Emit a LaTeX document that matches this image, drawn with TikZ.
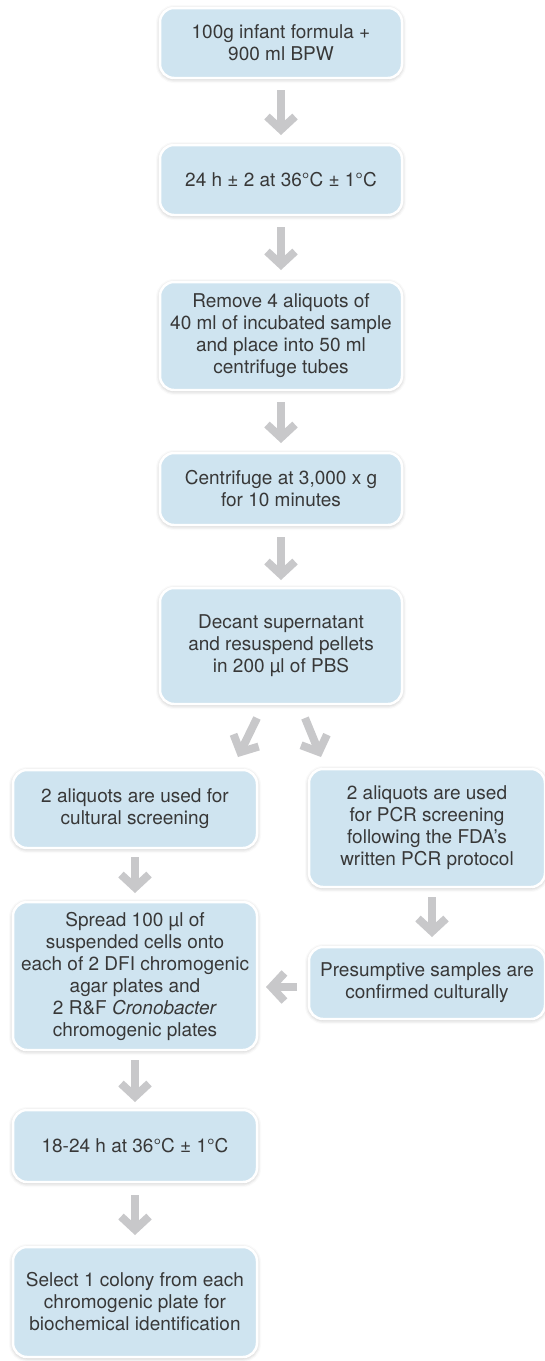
\documentclass[tikz,border=0pt]{standalone}
\usepackage{fontspec}
\setmainfont{TeX Gyre Heros}
\usetikzlibrary{arrows.meta,calc,shadows.blur}
\definecolor{boxblue}{HTML}{CFE4F0}
\definecolor{arrgray}{HTML}{C8C8CA}
\definecolor{txtgray}{HTML}{383838}
\begin{document}
\begin{tikzpicture}[x=1pt,y=-1pt,
  box/.style={rounded corners=14pt, fill=boxblue, draw=white, line width=2.5pt,
    align=center, text=txtgray, font=\fontsize{19}{22}\selectfont,
    inner sep=0pt, outer sep=0pt,
    blur shadow={shadow xshift=0pt, shadow yshift=-1pt, shadow blur radius=4pt, shadow opacity=30}},
  cbox/.style={box, minimum width=242pt},
  lbox/.style={box, minimum width=244pt},
  rbox/.style={box, minimum width=236pt},
  arr/.style={draw=arrgray, line width=8pt,
    -{Straight Barb[length=13pt, width=28pt, line width=8pt]}}]
\useasboundingbox (0,0) rectangle (545,1361);

\node[cbox, minimum height=70pt] (b1) at (281,43) {100g infant formula +\\900 ml BPW};
\node[cbox, minimum height=70pt] (b2) at (281,180) {24 h ± 2 at 36°C ± 1°C};
\node[cbox, minimum height=108pt] (b3) at (281,336) {Remove 4 aliquots of\\40 ml of incubated sample\\and place into 50 ml\\centrifuge tubes};
\node[cbox, minimum height=72pt] (b4) at (281,489) {Centrifuge at 3,000 x g\\for 10 minutes};
\node[cbox, minimum height=116pt] (b5) at (281,646) {Decant supernatant\\and resuspend pellets\\in 200 µl of PBS};
\node[lbox, minimum height=78pt] (l1) at (135,809) {2 aliquots are used for\\cultural screening};
\node[rbox, minimum height=118pt] (r1) at (427,828) {2 aliquots are used\\for PCR screening\\following the FDA’s\\written PCR protocol};
\node[lbox, minimum height=148pt] (l2) at (135,976) {Spread 100 µl of\\suspended cells onto\\each of 2 DFI chromogenic\\agar plates and\\2 R\&F \textit{Cronobacter}\\chromogenic plates};
\node[rbox, minimum height=72pt] (r2) at (427,983) {Presumptive samples are\\confirmed culturally};
\node[lbox, minimum height=72pt] (l3) at (135,1146) {18-24 h at 36°C ± 1°C};
\node[lbox, minimum height=110pt] (l4) at (135,1302) {Select 1 colony from each\\chromogenic plate for\\biochemical identification};

\draw[arr] ($(b1.south)+(0,12)$) -- ($(b2.north)+(0,-10)$);
\draw[arr] ($(b2.south)+(0,12)$) -- ($(b3.north)+(0,-12)$);
\draw[arr] ($(b3.south)+(0,12)$) -- ($(b4.north)+(0,-10)$);
\draw[arr] ($(b4.south)+(0,12)$) -- ($(b5.north)+(0,-8)$);
\draw[arr] ($(b5.south)+(-24,14)$) -- ($(l1.north)+(103,-13)$);
\draw[arr] ($(b5.south)+(24,14)$) -- ($(r1.north)+(-106,-12)$);
\draw[arr] ($(l1.south)+(0,9)$) -- ($(l2.north)+(0,-9)$);
\draw[arr] ($(r1.south)+(5,10)$) -- ($(r2.north)+(5,-10)$);
\draw[arr] ($(r2.west)+(-12,4)$) -- ($(l2.east)+(9,11)$);
\draw[arr] ($(l2.south)+(0,10)$) -- ($(l3.north)+(0,-8)$);
\draw[arr] ($(l3.south)+(0,13)$) -- ($(l4.north)+(0,-12)$);
\end{tikzpicture}
\end{document}
